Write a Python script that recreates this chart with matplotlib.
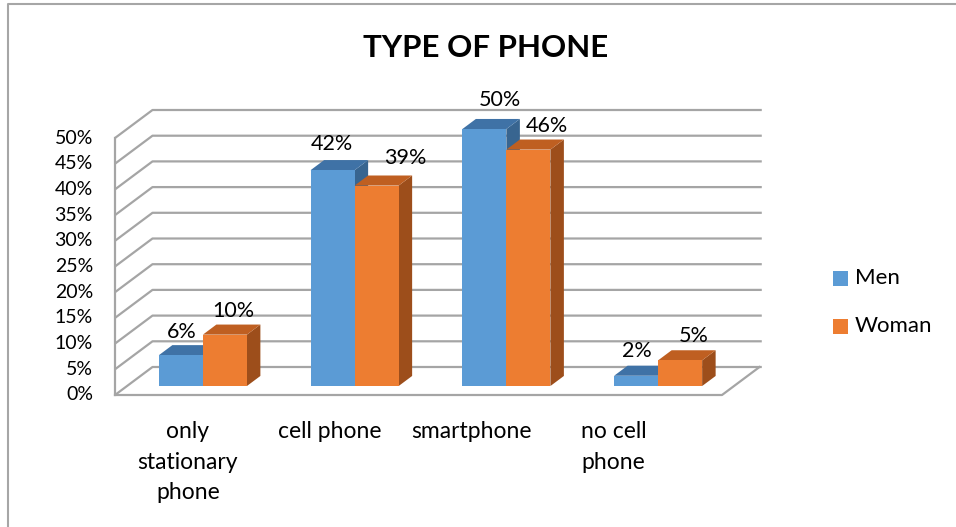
import matplotlib
matplotlib.use("Agg")
import matplotlib.pyplot as plt
from matplotlib.patches import Polygon, Rectangle
from matplotlib.lines import Line2D

plt.rcParams["font.family"] = ["Lato", "DejaVu Sans"]

# ---- data -------------------------------------------------------------
title = "TYPE OF PHONE"
categories = ["only\nstationary\nphone", "cell phone", "smartphone", "no cell\nphone"]
series_names = ["Men", "Woman"]
men = [6, 42, 50, 2]
woman = [10, 39, 46, 5]
y_ticks = [0, 5, 10, 15, 20, 25, 30, 35, 40, 45, 50]
tick_labels = [f"{t}%" for t in y_ticks]

# ---- layout / style ---------------------------------------------------
W, H = 956, 527
X0PX, CATPX = 115.0, 151.75      # pixel of category 0 (front), pixels per category
Y0PX, PCTPX = 395.0, 5.14        # pixel of 0 % (front), pixels per percent
DX, DY = 37.5 / CATPX, 28.0 / PCTPX   # depth offset of the back wall
F0, F1 = 0.32, 0.68              # bar depth span as fraction of floor depth
BAR_W = 0.29                     # bar width in category units
GRID_C = "#A5A5A5"
front_cols = ["#5B9BD5", "#ED7D31"]
top_cols = ["#3F72A6", "#BF5F21"]
side_cols = ["#386590", "#9D4E1B"]
# value-label nudges in pixels (x, y above bar top) per series
label_nudge = [
    [(-6, 13), (-7, 16), (9, 19), (-6, 15)],
    [(2, 14), (22, 18), (12, 14), (7, 14)],
]

fig = plt.figure(figsize=(W / 100, H / 100), dpi=100)
ax = fig.add_axes([0, 0, 1, 1])
ax.set_xlim(-X0PX / CATPX, (W - X0PX) / CATPX)
ax.set_ylim((Y0PX - H) / PCTPX, Y0PX / PCTPX)
ax.axis("off")

PT = 72 / 100  # points per pixel


def fig_px(x, y):
    return x / W, 1 - y / H


ncat = len(categories)

# walls: gridlines run along the side wall and the back wall
for t in y_ticks:
    ax.plot([0, DX, ncat + DX + 0.015], [t, t + DY, t + DY], color=GRID_C,
            lw=1.6, solid_capstyle="butt", zorder=1)
ax.plot([0, 0], [0, y_ticks[-1]], color=GRID_C, lw=1.6, zorder=1)
# floor
ax.plot([0, ncat, ncat + DX], [0, 0, DY], color=GRID_C, lw=1.6, zorder=1)

# y tick labels
for t, lab in zip(y_ticks, tick_labels):
    ax.annotate(lab, (0, t), xytext=(-22 * PT, 0), textcoords="offset points",
                ha="right", va="center", fontsize=14, color="#000000")

# 3D-looking bars
bdx, bdy = (F1 - F0) * DX, (F1 - F0) * DY
yb = F0 * DY
z = 2
for i in range(ncat):
    for s, vals in enumerate([men, woman]):
        v = vals[i]
        xl = i + 0.5 - BAR_W + s * BAR_W + F0 * DX
        xr = xl + BAR_W
        yt = yb + v
        ax.add_patch(Polygon([(xr, yb), (xr + bdx, yb + bdy), (xr + bdx, yt + bdy), (xr, yt)],
                             closed=True, fc=side_cols[s], ec="none", zorder=z))
        ax.add_patch(Polygon([(xl, yt), (xr, yt), (xr + bdx, yt + bdy), (xl + bdx, yt + bdy)],
                             closed=True, fc=top_cols[s], ec="none", zorder=z))
        ax.bar(xl, v, width=BAR_W, bottom=yb, align="edge", color=front_cols[s],
               edgecolor="none", zorder=z)
        z += 1
        nx, ny = label_nudge[s][i]
        ax.annotate(f"{v}%", (xl + BAR_W / 2 + bdx / 2, yt + bdy),
                    xytext=(nx * PT, ny * PT), textcoords="offset points", ha="center",
                    va="center", fontsize=15.5, color="#000000", zorder=20)

# category labels along the floor
LABEL_X0, LABEL_STEP = 0.48, 0.935
for i, cat in enumerate(categories):
    ax.annotate(cat, (LABEL_X0 + LABEL_STEP * i, 0), xytext=(0, -19),
                textcoords="offset points", ha="center", va="top",
                fontsize=16.5, linespacing=1.56, color="#000000")

# title
fig.text(*fig_px(486, 48), title, ha="center", va="center",
         fontsize=22.5, fontweight="bold", color="#000000")

# legend
for k, name in enumerate(series_names):
    cy = 278 + 48 * k
    x0, y0 = fig_px(833, cy + 7.5)
    fig.patches.append(Rectangle((x0, y0), 15 / W, 15 / H, transform=fig.transFigure,
                                 fc=front_cols[k], ec="none"))
    fig.text(*fig_px(855, cy), name, ha="left", va="center", fontsize=16,
             color="#000000")

# chart frame
fig.add_artist(Line2D([7.5 / W, 7.5 / W, 1], [0, 1 - 4 / H, 1 - 4 / H],
                      transform=fig.transFigure, color="#A6A6A6", lw=1.5))

fig.savefig("out.png", dpi=100)
